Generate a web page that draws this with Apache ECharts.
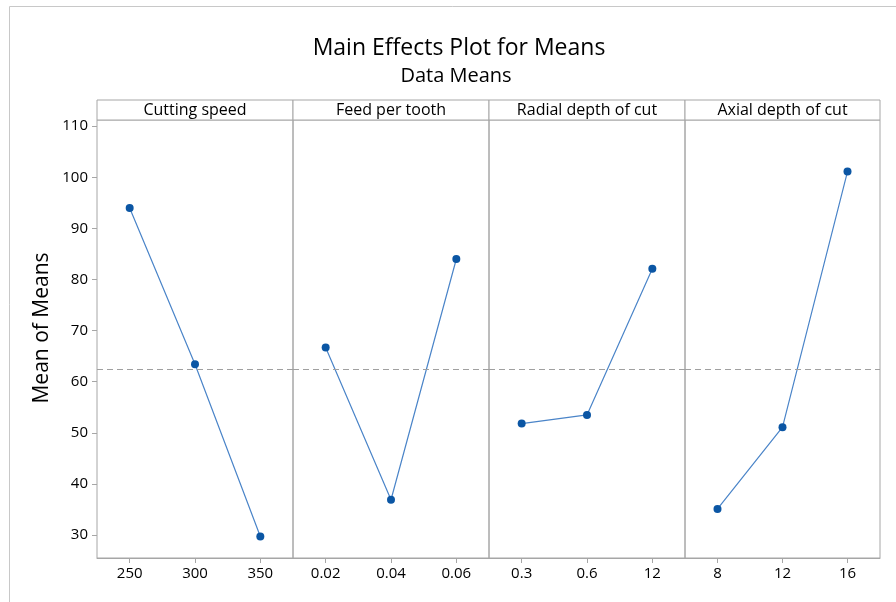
<!DOCTYPE html>
<html>
<head>
<meta charset="utf-8">
<script src="https://cdn.jsdelivr.net/npm/echarts@6/dist/echarts.min.js"></script>
<style>
html,body{margin:0;padding:0;background:#fff;}
#chart{width:896px;height:602px;}
</style>
</head>
<body>
<div id="chart"></div>
<script>
// ---- Data ----
const factorNames = ['Cutting speed', 'Feed per tooth', 'Radial depth of cut', 'Axial depth of cut'];
const levelsCutting = ['250', '300', '350'];
const levelsFeed = ['0.02', '0.04', '0.06'];
const levelsRadial = ['0.3', '0.6', '12'];
const levelsAxial = ['8', '12', '16'];
const meansCutting = [94.0, 63.4, 29.7];
const meansFeed = [66.7, 36.9, 84.0];
const meansRadial = [51.8, 53.5, 82.1];
const meansAxial = [35.1, 51.1, 101.1];
const grandMean = 62.4;
const yTickValues = [30, 40, 50, 60, 70, 80, 90, 100, 110];
const yMin = 25.5;
const yMax = 111.2;

// ---- Layout ----
const FONT = '"Open Sans", "Noto Sans", sans-serif';
const levels = [levelsCutting, levelsFeed, levelsRadial, levelsAxial];
const means = [meansCutting, meansFeed, meansRadial, meansAxial];
const panelLeft = 97, panelW = 196, plotTop = 120, plotBottom = 558, headerTop = 100;
const gridColor = '#a6a6a6';
const textColor = '#000';

const grids = [], xAxes = [], yAxes = [], series = [], graphics = [];
for (let i = 0; i < 4; i++) {
  const left = panelLeft + i * panelW;
  const w = i === 3 ? panelW - 1 : panelW;
  grids.push({
    left: left, top: plotTop, width: w, height: plotBottom - plotTop,
    show: true, borderColor: gridColor, borderWidth: 1, backgroundColor: 'transparent'
  });
  xAxes.push({
    type: 'category', gridIndex: i, data: levels[i], boundaryGap: true,
    axisLine: { show: true, lineStyle: { color: gridColor } },
    axisTick: { show: true, alignWithLabel: true, length: 5, lineStyle: { color: gridColor } },
    axisLabel: { color: textColor, fontFamily: FONT, fontSize: 15, margin: 8 }
  });
  yAxes.push({
    type: 'value', gridIndex: i, min: yMin, max: yMax,
    splitLine: { show: false },
    axisLine: { show: false },
    axisTick: { show: i === 0, length: 5, customValues: yTickValues, lineStyle: { color: gridColor } },
    axisLabel: { show: i === 0, customValues: yTickValues, color: textColor, fontFamily: FONT, fontSize: 15, margin: 9 }
  });
  series.push({
    type: 'line', xAxisIndex: i, yAxisIndex: i, data: means[i],
    symbol: 'circle', symbolSize: 8,
    itemStyle: { color: '#0b56a4' },
    lineStyle: { color: '#4a84c8', width: 1.2 },
    animation: false,
    markLine: {
      silent: true, symbol: 'none', label: { show: false },
      lineStyle: { color: '#a0a0a0', type: [6, 4], width: 1 },
      data: [{ yAxis: grandMean }]
    }
  });
  graphics.push({
    type: 'rect', shape: { x: left, y: headerTop, width: w, height: plotTop - headerTop },
    style: { fill: '#fff', stroke: gridColor, lineWidth: 1 }
  });
  graphics.push({
    type: 'text', x: left + w / 2, y: (headerTop + plotTop) / 2 + 0.5,
    style: { text: factorNames[i], fill: textColor, font: '16px ' + FONT, align: 'center', verticalAlign: 'middle' }
  });
}
// outer frame
graphics.push({ type: 'line', shape: { x1: 9.5, y1: 6.5, x2: 896, y2: 6.5 }, style: { stroke: '#c8c8c8', lineWidth: 1 } });
graphics.push({ type: 'line', shape: { x1: 9.5, y1: 6.5, x2: 9.5, y2: 602 }, style: { stroke: '#c8c8c8', lineWidth: 1 } });
// y axis name
graphics.push({
  type: 'text', x: 42, y: 328, rotation: Math.PI / 2,
  style: { text: 'Mean of Means', fill: textColor, font: '21px ' + FONT, align: 'center', verticalAlign: 'middle' }
});

const chart = echarts.init(document.getElementById('chart'), null, { renderer: 'canvas' });
chart.setOption({
  animation: false,
  backgroundColor: '#fff',
  title: [{
    text: 'Main Effects Plot for Means',
    left: 459, top: 37, textAlign: 'center', padding: 0,
    textStyle: { fontFamily: FONT, fontSize: 23, fontWeight: 'normal', color: textColor }
  }, {
    text: 'Data Means',
    left: 456, top: 66, textAlign: 'center', padding: 0,
    textStyle: { fontFamily: FONT, fontSize: 20, fontWeight: 'normal', color: textColor }
  }],
  grid: grids,
  xAxis: xAxes,
  yAxis: yAxes,
  series: series,
  graphic: graphics
});
</script>
</body>
</html>
